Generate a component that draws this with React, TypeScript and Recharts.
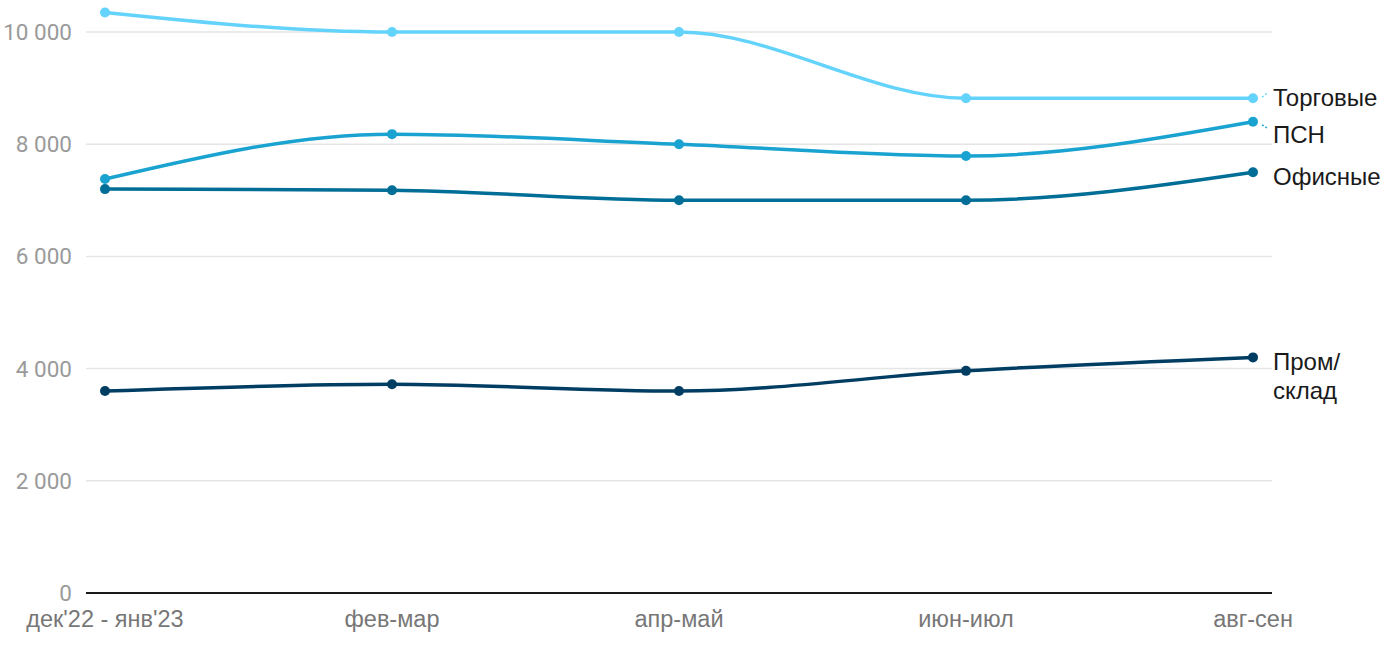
import { LineChart, Line, XAxis, YAxis, CartesianGrid } from "recharts"

const periods = ["дек'22 - янв'23", "фев-мар", "апр-май", "июн-июл", "авг-сен"]
const torgovye = [10350, 10000, 10000, 8820, 8820]
const psn = [7380, 8180, 8000, 7790, 8400]
const ofisnye = [7200, 7180, 7000, 7000, 7500]
const prom = [3600, 3720, 3600, 3960, 4200]
const yTicks = [0, 2000, 4000, 6000, 8000, 10000]
const yMax = 10500

const data = periods.map((p, i) => ({
  period: p,
  torgovye: torgovye[i],
  psn: psn[i],
  ofisnye: ofisnye[i],
  prom: prom[i],
}))

const series = [
  { key: "torgovye", name: ["Торговые"], color: "#63d3fc", shift: -1 },
  { key: "psn", name: ["ПСН"], color: "#1aa3d1", shift: 12 },
  { key: "ofisnye", name: ["Офисные"], color: "#006e96", shift: 4 },
  { key: "prom", name: ["Пром/", "склад"], color: "#003d63", shift: 4 },
]

const fmt = (v: number) => v.toString().replace(/\B(?=(\d{3})+(?!\d))/g, " ")

function endLabel(s: (typeof series)[number]) {
  return (props: any) => {
    const { x, y, index } = props
    if (index !== periods.length - 1) return null
    const tx = x + 20
    const ty = y + s.shift
    return (
      <g>
        {s.key === "torgovye" || s.key === "psn" ? (
          <line
            x1={x + 9}
            y1={y + (s.key === "psn" ? 3 : -1)}
            x2={x + 14}
            y2={y + (s.key === "psn" ? 6 : -5)}
            stroke={s.color}
            strokeWidth={1.5}
            strokeDasharray="2 2"
          />
        ) : null}
        <text
          x={tx}
          y={ty}
          fontFamily="Liberation Sans, Arial, sans-serif"
          fontSize={24}
          fill="#1a1a1a"
          dominantBaseline="central"
        >
          {s.name.map((n, i) => (
            <tspan key={n} x={tx} dy={i === 0 ? 0 : 29}>
              {n}
            </tspan>
          ))}
        </text>
      </g>
    )
  }
}

// grid only at the tick values, not at the top edge of the plot
const gridRows = ({ offset }: any) => {
  if (!offset || typeof offset.top !== "number") return []
  return yTicks.map((t) => offset.top + offset.height * (1 - t / yMax))
}

export default function App() {
  return (
    <div style={{ position: "absolute", left: 0, top: 0, width: 1400, height: 650, background: "#fff" }}>
      <LineChart width={1400} height={650} data={data} margin={{ top: 4, right: 128, bottom: 0, left: 0 }}>
        <CartesianGrid
          vertical={false}
          horizontalCoordinatesGenerator={gridRows}
          stroke="#e5e5e5"
          strokeWidth={1.5}
        />
        <XAxis
          dataKey="period"
          height={57}
          tickLine={false}
          axisLine={{ stroke: "#1a1a1a", strokeWidth: 2 }}
          padding={{ left: 19, right: 19 }}
          tick={{ fill: "#777", fontSize: 23.5, fontFamily: "Liberation Sans, Arial, sans-serif" }}
          tickMargin={11}
          interval={0}
        />
        <YAxis
          width={86}
          domain={[0, yMax]}
          ticks={yTicks}
          tickFormatter={fmt}
          tickLine={false}
          axisLine={false}
          tickSize={0}
          tickMargin={14}
          tick={{ fill: "#9a9a9a", fontSize: 22.5, fontFamily: "Roboto, sans-serif" }}
        />
        {series.map((s) => (
          <Line
            key={s.key}
            dataKey={s.key}
            type="monotone"
            stroke={s.color}
            strokeWidth={3.5}
            dot={{ r: 5, fill: s.color, stroke: s.color, strokeWidth: 0 }}
            activeDot={false}
            isAnimationActive={false}
            label={endLabel(s)}
          />
        ))}
      </LineChart>
    </div>
  )
}
